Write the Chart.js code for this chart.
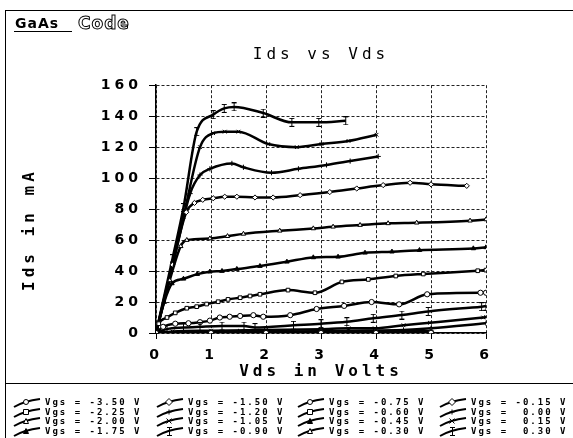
<!DOCTYPE html>
<html>
<head>
<meta charset="utf-8">
<title>Ids vs Vds</title>
<script src="https://cdn.jsdelivr.net/npm/chart.js"></script>
<style>
  html, body { margin: 0; padding: 0; background: #fff; }
  canvas { display: block; }
</style>
</head>
<body>
<canvas id="grafico" width="573" height="438"></canvas>
<script>
// Vgs of each curve, in legend order (column by column)
const vgsLabels = ['-3.50', '-2.25', '-2.00', '-1.75', '-1.50', '-1.20', '-1.05', '-0.90',
                   '-0.75', '-0.60', '-0.45', '-0.30', '-0.15', '0.00', '0.15', '0.30'];

const vdsTicks = [0, 1, 2, 3, 4, 5, 6];
const idsTicks = [0, 20, 40, 60, 80, 100, 120, 140, 160];

// Vds (V) and Ids (mA)
const vdsM350 = [0, 1, 2, 3, 4, 5];
const idsM350 = [0, 0, 0, 0, 0, 0.1];
const vdsM225 = [0, 1, 2, 3, 4, 5];
const idsM225 = [0, 0.1, 0.1, 0.1, 0.2, 0.2];
const vdsM200 = [0, 1, 2, 3, 4, 5];
const idsM200 = [0, 0.2, 0.2, 0.3, 0.3, 0.4];
const vdsM175 = [0, 1, 2, 3, 4, 5];
const idsM175 = [0, 0.3, 0.3, 0.5, 0.5, 0.8];
const vdsM150 = [0, 1, 2, 3, 4, 5];
const idsM150 = [0, 0.5, 0.5, 1, 1, 1.2];
const vdsM120 = [0, 0.5, 1.5, 2.5, 3.5, 4.5, 5, 6];
const idsM120 = [0, 0.5, 1, 1, 1.5, 2, 3, 6.3];
const vdsM105 = [0, 0.3, 1, 2, 3, 3.5, 3.98, 4.5, 4.98, 5.95, 6];
const idsM105 = [0, 1, 1.5, 2, 2.5, 3, 3, 5, 6.6, 10, 10.2];
const vdsM090 = [0, 0.2, 0.5, 0.8, 1.2, 1.6, 1.8, 2.5, 3.0, 3.47, 3.95, 4.47, 4.95, 5.92, 6];
const idsM090 = [0, 2.5, 3.5, 4, 4.5, 4.5, 3.5, 5, 6, 7.3, 9.5, 11.6, 13.9, 17, 17.3];
const vdsM075 = [0, 0.13, 0.35, 0.59, 0.8, 0.98, 1.16, 1.34, 1.53, 1.77, 1.95, 2.44, 2.92, 3.42, 3.92, 4.42, 4.93, 5.9, 6];
const idsM075 = [0, 4, 6, 6.3, 7, 8, 10, 10.5, 11, 11.5, 10.5, 11.5, 15.5, 17.5, 20, 18.5, 25, 26, 26];
const vdsM060 = [0, 0.05, 0.2, 0.35, 0.56, 0.74, 0.92, 1.13, 1.31, 1.53, 1.71, 1.89, 2.4, 2.89, 3.38, 3.86, 4.36, 4.86, 5.85, 6];
const idsM060 = [0, 6, 10, 13, 16, 17, 18.7, 20.2, 21.7, 22.8, 23.9, 25, 27.7, 26, 33, 34.6, 36.8, 38.1, 40.2, 40.6];
const vdsM045 = [0, 0.15, 0.29, 0.5, 0.75, 0.98, 1.2, 1.47, 1.89, 2.38, 2.86, 3.31, 3.8, 4.29, 4.79, 5.77, 6];
const idsM045 = [0, 20, 32, 35, 38, 39.6, 40, 41.3, 43.2, 46, 48.8, 49.2, 51.8, 52.5, 53.5, 54.6, 55.3];
const vdsM030 = [0, 0.25, 0.45, 0.56, 0.98, 1.3, 1.59, 2.25, 2.86, 3.22, 3.71, 4.22, 4.74, 5.71, 6];
const idsM030 = [0, 34, 56, 60, 61, 62.5, 64, 66, 67.5, 68.6, 69.7, 70.8, 71.2, 72.5, 73.3];
const vdsM015 = [0, 0.3, 0.55, 0.7, 0.85, 1.04, 1.25, 1.47, 1.8, 2.13, 2.62, 3.16, 3.65, 4.13, 4.62, 5.0, 5.65];
const idsM015 = [0, 44, 78, 84, 86, 87, 88, 88, 87.5, 87.5, 89, 91, 93.3, 95.5, 97, 96, 95];
const vdsP000 = [0, 0.3, 0.62, 0.8, 0.98, 1.38, 1.59, 2.1, 2.59, 3.1, 3.53, 4.04];
const idsP000 = [0, 43, 90, 102, 106, 109.5, 107, 103.5, 106, 108.5, 111, 114];
const vdsP015 = [0, 0.3, 0.5, 0.8, 1.04, 1.25, 1.5, 2.04, 2.56, 3.01, 3.5, 4.01];
const idsP015 = [0, 45, 75, 120, 129, 130, 130, 122, 120, 122, 124, 128];
const vdsP030 = [0, 0.3, 0.5, 0.74, 1.04, 1.24, 1.42, 1.95, 2.47, 2.96, 3.45];
const idsP030 = [0, 48, 81, 130, 141, 145, 146, 142, 136, 136, 137];

const curvesVds = [vdsM350, vdsM225, vdsM200, vdsM175, vdsM150, vdsM120, vdsM105, vdsM090,
                   vdsM075, vdsM060, vdsM045, vdsM030, vdsM015, vdsP000, vdsP015, vdsP030];
const curvesIds = [idsM350, idsM225, idsM200, idsM175, idsM150, idsM120, idsM105, idsM090,
                   idsM075, idsM060, idsM045, idsM030, idsM015, idsP000, idsP015, idsP030];

// I-beam marker
function markerI() {
  const c = document.createElement('canvas');
  c.width = 7; c.height = 9;
  const g = c.getContext('2d');
  g.strokeStyle = '#000';
  g.lineWidth = 1;
  g.beginPath();
  g.moveTo(1, 0.5); g.lineTo(6, 0.5);
  g.moveTo(3.5, 0.5); g.lineTo(3.5, 8.5);
  g.moveTo(1, 8.5); g.lineTo(6, 8.5);
  g.stroke();
  return c;
}
const iBeam = markerI();

const marcadores = ['circle', 'rect', 'triangle', 'triangle', 'rectRot', 'cross', 'crossRot', iBeam,
                    'circle', 'rect', 'triangle', 'triangle', 'rectRot', 'cross', 'crossRot', iBeam];
const preenchido = [false, false, false, true, false, false, false, false,
                    false, false, true, false, false, false, false, false];

const datasets = vgsLabels.map((vgs, i) => ({
  label: 'Vgs = ' + (vgs[0] === '-' ? vgs : ' ' + vgs) + ' V',
  data: curvesVds[i].map((v, j) => ({ x: v, y: curvesIds[i][j] })),
  borderColor: '#000',
  borderWidth: 2.5,
  backgroundColor: preenchido[i] ? '#000' : '#fff',
  pointStyle: marcadores[i],
  pointRadius: 2.6,
  pointBorderWidth: 1,
  pointBorderColor: '#000',
  pointBackgroundColor: preenchido[i] ? '#000' : '#fff',
  cubicInterpolationMode: 'monotone',
  fill: false
}));

// wide spacing of the old pixel font
const espacamento = {
  id: 'espacamento',
  beforeUpdate(chart) { chart.ctx.letterSpacing = '4px'; },
  beforeDraw(chart) { chart.ctx.letterSpacing = '4px'; }
};

function desenhaMarcador(ctx, estilo, x, y, cheio) {
  ctx.save();
  ctx.lineWidth = 1;
  ctx.strokeStyle = '#000';
  ctx.fillStyle = cheio ? '#000' : '#fff';
  const r = 2.5;
  ctx.beginPath();
  if (estilo === iBeam) {
    ctx.drawImage(iBeam, Math.round(x - 3.5), Math.round(y - 4.5));
  } else if (estilo === 'circle') {
    ctx.arc(x, y, r, 0, Math.PI * 2); ctx.fill(); ctx.stroke();
  } else if (estilo === 'rect') {
    ctx.rect(x - r, y - r, 2 * r, 2 * r); ctx.fill(); ctx.stroke();
  } else if (estilo === 'rectRot') {
    ctx.moveTo(x, y - r - 1); ctx.lineTo(x + r + 1, y); ctx.lineTo(x, y + r + 1); ctx.lineTo(x - r - 1, y);
    ctx.closePath(); ctx.fill(); ctx.stroke();
  } else if (estilo === 'triangle') {
    ctx.moveTo(x, y - r); ctx.lineTo(x + r, y + r); ctx.lineTo(x - r, y + r);
    ctx.closePath(); ctx.fill(); ctx.stroke();
  } else if (estilo === 'cross') {
    ctx.moveTo(x - r, y); ctx.lineTo(x + r, y); ctx.moveTo(x, y - r); ctx.lineTo(x, y + r); ctx.stroke();
  } else if (estilo === 'crossRot') {
    ctx.moveTo(x - r, y - r); ctx.lineTo(x + r, y + r); ctx.moveTo(x + r, y - r); ctx.lineTo(x - r, y + r); ctx.stroke();
  }
  ctx.restore();
}

// frame, logo and the legend box under the plot
const moldura = {
  id: 'moldura',
  afterDraw(chart) {
    const ctx = chart.ctx;
    ctx.save();
    ctx.letterSpacing = '0px';
    ctx.strokeStyle = '#000';
    ctx.lineWidth = 1;
    ctx.beginPath();
    ctx.moveTo(5, 10.5); ctx.lineTo(573, 10.5);
    ctx.moveTo(5.5, 10); ctx.lineTo(5.5, 438);
    ctx.moveTo(5, 383.5); ctx.lineTo(573, 383.5);
    ctx.stroke();

    // logo
    ctx.fillStyle = '#000';
    ctx.font = 'bold 14px "DejaVu Sans"';
    ctx.letterSpacing = '1px';
    ctx.textBaseline = 'alphabetic';
    ctx.fillText('GaAs', 15, 28);
    ctx.beginPath();
    ctx.moveTo(14, 31.5); ctx.lineTo(72, 31.5);
    ctx.stroke();
    ctx.font = 'bold 17px "DejaVu Sans"';
    ctx.lineWidth = 1;
    ctx.strokeText('Code', 78, 29);

    // legend
    const colX = [14, 157, 298, 440];
    const rowY = [403, 413, 422, 432];
    ctx.font = 'bold 9px "DejaVu Sans Mono"';
    ctx.letterSpacing = '2px';
    ctx.textBaseline = 'middle';
    chart.data.datasets.forEach((ds, i) => {
      const x = colX[Math.floor(i / 4)];
      const y = rowY[i % 4];
      ctx.lineWidth = 2;
      ctx.beginPath();
      ctx.moveTo(x, y + 4);
      ctx.quadraticCurveTo(x + 10, y - 2, x + 26, y - 4);
      ctx.stroke();
      desenhaMarcador(ctx, marcadores[i], x + 12, y - 1, preenchido[i]);
      ctx.fillStyle = '#000';
      ctx.fillText(ds.label, x + 31, y);
    });
    ctx.restore();
  }
};

const grafico = document.getElementById('grafico').getContext('2d');

new Chart(grafico, {
  type: 'line',
  data: { datasets: datasets },
  plugins: [espacamento, moldura],
  options: {
    responsive: false,
    animation: false,
    layout: { padding: { left: 14, right: 87, top: 10, bottom: 55 } },
    plugins: {
      legend: { display: false },
      tooltip: { enabled: false },
      title: {
        display: true,
        text: 'Ids vs Vds',
        fullSize: false,
        color: '#000',
        font: { family: '"DejaVu Sans Mono"', size: 16, weight: 'normal', lineHeight: 1.2 },
        padding: { top: 35, bottom: 21 }
      }
    },
    scales: {
      x: {
        type: 'linear',
        min: 0,
        max: 6,
        afterFit(scale) { scale.height = 50; },
        afterBuildTicks(scale) { scale.ticks = vdsTicks.map(v => ({ value: v })); },
        ticks: {
          color: '#000',
          padding: 8,
          maxRotation: 0,
          font: { family: '"DejaVu Sans"', size: 14, weight: 'bold' }
        },
        grid: { color: '#222', drawTicks: true, tickLength: 6, tickColor: '#000' },
        border: { color: '#000', width: 1.5, dash: [3, 2] },
        title: {
          display: true,
          text: 'Vds in Volts',
          color: '#000',
          font: { family: '"DejaVu Sans Mono"', size: 16, weight: 'bold', lineHeight: 1.2 },
          padding: { top: 0, bottom: 2 }
        }
      },
      y: {
        min: 0,
        max: 160,
        afterFit(scale) { scale.width = 142; },
        afterBuildTicks(scale) { scale.ticks = idsTicks.map(v => ({ value: v })); },
        ticks: {
          color: '#000',
          padding: 7,
          font: { family: '"DejaVu Sans"', size: 14, weight: 'bold' }
        },
        grid: { color: '#222', drawTicks: true, tickLength: 7, tickColor: '#000' },
        border: { color: '#000', width: 1.5, dash: [3, 2] },
        title: {
          display: true,
          text: 'Ids in mA   ',
          color: '#000',
          font: { family: '"DejaVu Sans Mono"', size: 16, weight: 'bold', lineHeight: 1.2 },
          padding: { top: 6, bottom: 0 }
        }
      }
    }
  }
});
</script>
</body>
</html>
